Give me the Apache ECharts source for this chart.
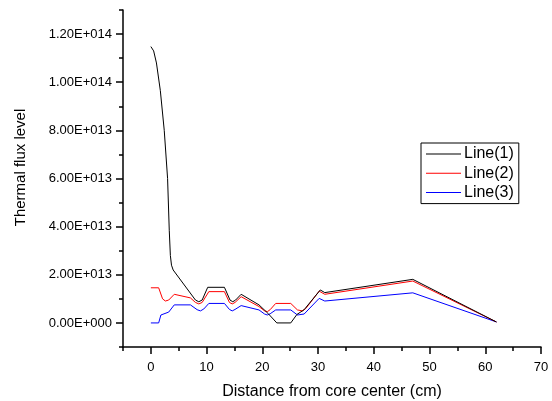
<!DOCTYPE html>
<html>
<head>
<meta charset="utf-8">
<script src="https://cdn.jsdelivr.net/npm/echarts@6/dist/echarts.min.js"></script>
<style>html,body{margin:0;padding:0;background:#fff}#c{width:552px;height:401px}</style>
</head>
<body>
<div id="c"></div>
<script>
// Data (x in cm, y in thermal flux units)
const seriesNames = ['Line(1)', 'Line(2)', 'Line(3)'];
const line1 = [[0,11.48e13],[0.5,11.3e13],[1,10.8e13],[1.7,9.65e13],[2.4,8.0e13],[3.0,6.0e13],[3.3,3.85e13],[3.5,2.8e13],[3.7,2.4e13],[4.0,2.2e13],[8.0,0.95e13],[8.6,0.88e13],[9.2,0.95e13],[10.2,1.48e13],[13.2,1.48e13],[14.2,0.95e13],[14.7,0.88e13],[15.2,0.95e13],[16.2,1.19e13],[19.4,0.75e13],[21.0,0.4e13],[22.6,0],[25.1,0],[26.2,0.35e13],[27.5,0.55e13],[30.4,1.37e13],[31.2,1.26e13],[47,1.81e13],[62,0.04e13]];
const line2 = [[0,1.46e13],[1.4,1.46e13],[2.1,1.0e13],[2.6,0.91e13],[3.2,0.95e13],[4.2,1.19e13],[7.1,1.04e13],[8.0,0.85e13],[8.6,0.79e13],[9.2,0.85e13],[10.4,1.3e13],[13.2,1.3e13],[14.1,0.85e13],[14.6,0.79e13],[15.1,0.85e13],[16.2,1.09e13],[19.4,0.68e13],[20.4,0.5e13],[20.9,0.47e13],[21.4,0.55e13],[22.4,0.81e13],[25.1,0.81e13],[26.3,0.54e13],[27.2,0.5e13],[27.8,0.6e13],[30.2,1.32e13],[31.2,1.19e13],[47,1.74e13],[62,0.04e13]];
const line3 = [[0,0],[1.4,0],[1.8,0.33e13],[3.2,0.45e13],[4.2,0.75e13],[7.1,0.75e13],[8.3,0.55e13],[8.9,0.5e13],[9.5,0.58e13],[10.4,0.81e13],[13.2,0.81e13],[14.1,0.56e13],[14.6,0.5e13],[15.1,0.56e13],[16.2,0.72e13],[19.4,0.54e13],[20.4,0.37e13],[20.9,0.33e13],[21.4,0.38e13],[22.4,0.54e13],[25.1,0.54e13],[26.3,0.33e13],[27.5,0.37e13],[30.2,1.02e13],[31.2,0.91e13],[47,1.25e13],[62,0.04e13]];
const colors = ['#000000', '#ff0000', '#0000ff'];
const xMajorTicks = [0,10,20,30,40,50,60,70];
const xMinorTicks = [-5,5,15,25,35,45,55,65];
const yMajorTicks = [0,2e13,4e13,6e13,8e13,10e13,12e13];
const yMinorTicks = [-1e13,1e13,3e13,5e13,7e13,9e13,11e13,13e13];

function sci(v) {
  if (v === 0) return '0.00E+000';
  const e = Math.floor(Math.log10(Math.abs(v)) + 1e-9);
  const m = v / Math.pow(10, e);
  const es = String(Math.abs(e)).padStart(3, '0');
  return m.toFixed(2) + 'E' + (e >= 0 ? '+' : '-') + es;
}

const font = 'Liberation Sans, Arial, sans-serif';
const chart = echarts.init(document.getElementById('c'), null, {renderer: 'canvas'});
const lineDatas = [line1, line2, line3];
chart.setOption({
  animation: false,
  backgroundColor: '#fff',
  grid: {left: 123, right: 11, top: 10, bottom: 54, containLabel: false, outerBoundsMode: 'none'},
  legend: {
    orient: 'vertical', left: 421, top: 143,
    data: seriesNames.map(n => ({name: n, icon: 'rect'})),
    itemWidth: 35, itemHeight: 1, itemGap: 3.3,
    borderColor: '#000', borderWidth: 1, padding: [3, 5, 3, 5],
    textStyle: {fontFamily: font, fontSize: 16, lineHeight: 16, color: '#000', padding: [0,0,0,-2]},
    backgroundColor: '#fff'
  },
  xAxis: [{
    type: 'value', min: -5, max: 70,
    name: 'Distance from core center (cm)', nameLocation: 'middle', nameGap: 37,
    nameTextStyle: {fontFamily: font, fontSize: 16, color: '#000'},
    axisLine: {show: true, onZero: false, lineStyle: {color: '#000', width: 1.5}},
    axisTick: {show: true, inside: false, length: 7, customValues: xMajorTicks, lineStyle: {color: '#000', width: 1.5}},
    axisLabel: {customValues: xMajorTicks, margin: 14, fontFamily: font, fontSize: 13, color: '#000'},
    splitLine: {show: false}
  }, {
    type: 'value', min: -5, max: 70, position: 'bottom', gridIndex: 0,
    axisLine: {show: false, onZero: false},
    axisTick: {show: true, length: 4, customValues: xMinorTicks, lineStyle: {color: '#000', width: 1.5}},
    axisLabel: {show: false}, splitLine: {show: false}
  }],
  yAxis: [{
    type: 'value', min: -1e13, max: 13e13,
    name: 'Thermal flux level', nameLocation: 'middle', nameGap: 95,
    nameTextStyle: {fontFamily: font, fontSize: 15, color: '#000', padding: [0, 0, 0, 22]},
    axisLine: {show: true, onZero: false, lineStyle: {color: '#000', width: 1.5}},
    axisTick: {show: true, length: 7, customValues: yMajorTicks, lineStyle: {color: '#000', width: 1.5}},
    axisLabel: {customValues: yMajorTicks, margin: 11, fontFamily: font, fontSize: 13, color: '#000', formatter: sci},
    splitLine: {show: false}
  }, {
    type: 'value', min: -1e13, max: 13e13, position: 'left', gridIndex: 0,
    axisLine: {show: false, onZero: false},
    axisTick: {show: true, length: 4, customValues: yMinorTicks, lineStyle: {color: '#000', width: 1.5}},
    axisLabel: {show: false}, splitLine: {show: false}
  }],
  series: seriesNames.map((n, i) => ({
    name: n, type: 'line', data: lineDatas[i], xAxisIndex: 0, yAxisIndex: 0,
    showSymbol: false, symbol: 'none', smooth: false,
    lineStyle: {color: colors[i], width: 1}, itemStyle: {color: colors[i]}, z: 3 - i
  }))
});
</script>
</body>
</html>
